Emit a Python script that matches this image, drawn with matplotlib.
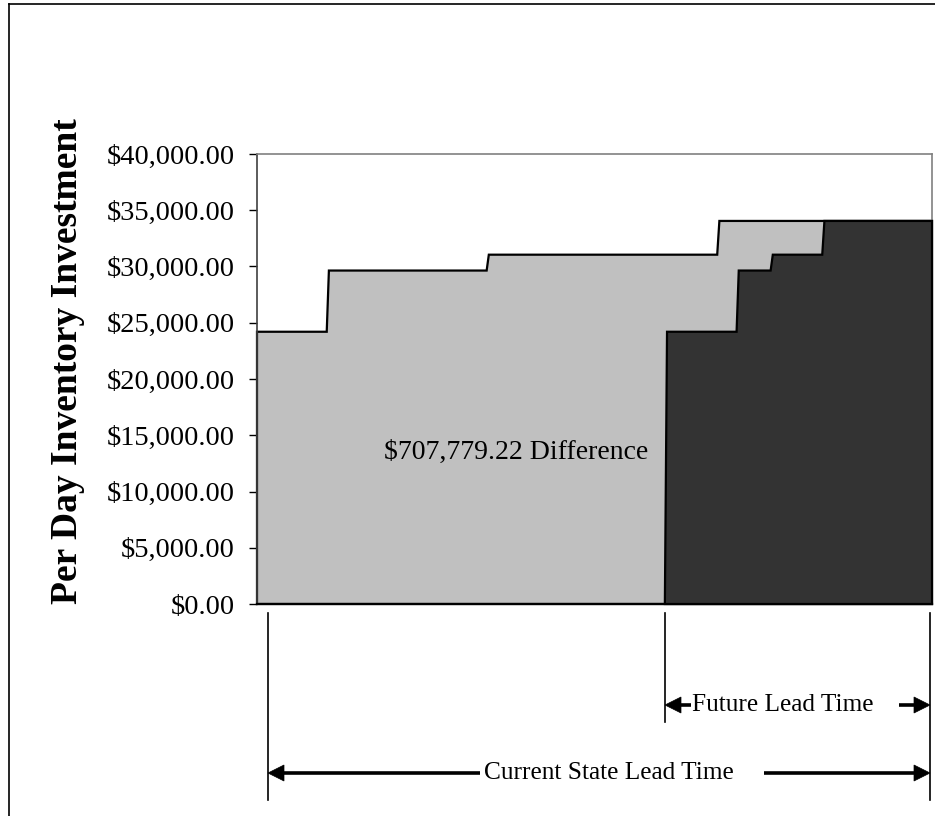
import matplotlib
matplotlib.use("Agg")
import matplotlib.pyplot as plt
from matplotlib.patches import Polygon
from matplotlib.lines import Line2D
from matplotlib.ticker import FuncFormatter

plt.rcParams['font.family'] = ['Liberation Serif', 'DejaVu Serif']

# Per-day inventory value for each stage of the value stream ($/day)
stage_levels = [24200, 29640, 31050, 34050]
# Days spent at each level, current state vs. future state
current_days = [3.85, 8.83, 12.73, 11.86]
future_days = [3.96, 1.88, 2.85, 6.06]

y_ticks = [0, 5000, 10000, 15000, 20000, 25000, 30000, 35000, 40000]
difference_label = "$707,779.22 Difference"
y_title = "Per Day Inventory Investment"
future_label = "Future Lead Time"
current_label = "Current State Lead Time"

W, H = 935, 816
fig = plt.figure(figsize=(W / 100, H / 100), dpi=100)


def fx(px):
    return px / W


def fy(py):
    return 1 - py / H


ax = fig.add_axes([fx(257), fy(604), fx(932) - fx(257), fy(154) - fy(604)])

current_total = sum(current_days)
future_total = sum(future_days)
future_start = current_total - future_total
ramp = 0.12  # each rise is drawn slightly slanted


def step_outline(start, durations, levels, first_ramp):
    xs, ys = [start], [0]
    x = start
    for i, (d, v) in enumerate(zip(durations, levels)):
        r = first_ramp if i == 0 else ramp
        xs += [x + r, x + d]
        ys += [v, v]
        x += d
    xs.append(x)
    ys.append(0)
    return list(zip(xs, ys))


current_poly = Polygon(step_outline(0, current_days, stage_levels, 0.0),
                       closed=True, facecolor="#C0C0C0", edgecolor="black",
                       linewidth=1.6, joinstyle="miter", clip_on=False, zorder=2)
future_poly = Polygon(step_outline(future_start, future_days, stage_levels, ramp),
                      closed=True, facecolor="#333333", edgecolor="black",
                      linewidth=1.6, joinstyle="miter", clip_on=False, zorder=3)
ax.add_patch(current_poly)
ax.add_patch(future_poly)

ax.set_xlim(0, current_total)
ax.set_ylim(0, 40000)
ax.set_xticks([])
ax.set_yticks(y_ticks)
ax.yaxis.set_major_formatter(FuncFormatter(lambda v, p: "${:,.2f}".format(v)))
ax.tick_params(axis="y", direction="out", length=6, width=1, color="black",
               pad=10, labelsize=20.5)
for s in ("top", "right"):
    ax.spines[s].set_color("#808080")
    ax.spines[s].set_linewidth(1.2)
ax.spines["left"].set_color("#404040")
ax.spines["left"].set_linewidth(1.2)
ax.spines["bottom"].set_color("black")
ax.spines["bottom"].set_linewidth(1.6)

ax.text((516 - 257) / 675, (604 - 452) / 450, difference_label,
        transform=ax.transAxes, ha="center", va="center", fontsize=20, zorder=5)

fig.text(fx(68), fy(361), y_title, rotation=90, ha="center", va="center",
         fontsize=27, fontweight="bold")

# outer frame
fig.add_artist(Line2D([fx(9), fx(9)], [0, fy(4)], color="black", lw=1.2))
fig.add_artist(Line2D([fx(9), 1.0], [fy(4), fy(4)], color="black", lw=1.2))

# lead time dimension lines
for x0, y1 in ((268, 800), (665, 722), (930, 800)):
    fig.add_artist(Line2D([fx(x0), fx(x0)], [fy(613), fy(y1)], color="black", lw=1.2))


def arrow_head(tip_x, y, direction):
    L, hw = 16, 8
    base = tip_x - direction * L
    pts = [(fx(tip_x), fy(y)), (fx(base), fy(y - hw)), (fx(base), fy(y + hw))]
    fig.add_artist(Polygon(pts, closed=True, facecolor="black", edgecolor="black",
                           lw=0.5, transform=fig.transFigure))


def shaft(x0, x1, y):
    fig.add_artist(Line2D([fx(x0), fx(x1)], [fy(y), fy(y)], color="black",
                          lw=2.6, solid_capstyle="butt"))


# future lead time arrow
arrow_head(665, 705, -1)
shaft(680, 691, 705)
fig.text(fx(783), fy(705), future_label, ha="center", va="center", fontsize=18.3)
shaft(899, 915, 705)
arrow_head(930, 705, 1)

# current state lead time arrow
arrow_head(268, 773, -1)
shaft(283, 480, 773)
fig.text(fx(609), fy(773), current_label, ha="center", va="center", fontsize=18.3)
shaft(764, 915, 773)
arrow_head(930, 773, 1)

fig.savefig("out.png", dpi=100, facecolor="white")
